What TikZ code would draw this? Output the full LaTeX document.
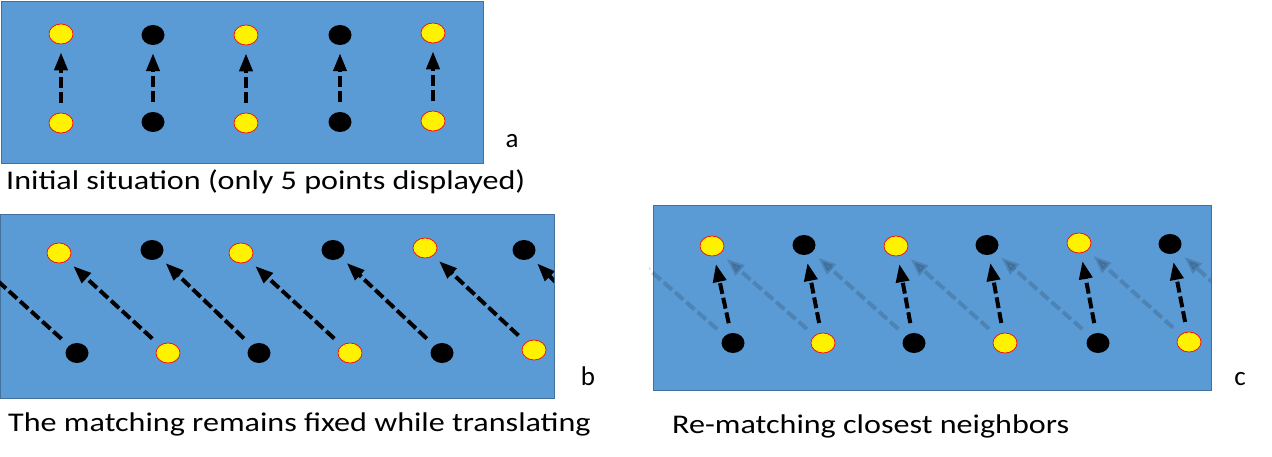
\documentclass[tikz,border=0pt]{standalone}
\usepackage{fontspec}
\setmainfont{Carlito}
\usetikzlibrary{shapes.geometric,arrows.meta}
\definecolor{panelblue}{HTML}{5B9BD5}
\definecolor{paneledge}{HTML}{41719C}
\def\cap#1{\scalebox{1.19}[1]{#1}}

\begin{document}
\begin{tikzpicture}[x=1pt, y=-1pt,
  panel/.style={fill=panelblue, draw=paneledge, line width=0.8pt},
  ydot/.style={ellipse, fill=yellow, draw=red, line width=0.7pt, minimum width=24pt, minimum height=20pt, inner sep=0pt},
  bdot/.style={ellipse, fill=black, minimum width=23pt, minimum height=20pt, inner sep=0pt},
  match/.style={-{Triangle[length=18pt,width=13pt]}, line width=4pt, dash pattern=on 11pt off 4pt, shorten <=10pt, shorten >=8pt},
  ghost/.style={match, draw opacity=0.15, fill opacity=0.15},
  tag/.style={font=\fontsize{27}{32}\selectfont, inner sep=0pt}]
\useasboundingbox (0,0) rectangle (1272,457);

% a
\draw[panel] (1,1) rectangle (483,163);
\foreach \s/\x/\yt/\yb [count=\i] in {ydot/61/34/123, bdot/153/35/122, ydot/246/35/123, bdot/340/35/122, ydot/433/33/121}{
	\node[\s] (at\i) at (\x,\yt) {};
	\node[\s] (ab\i) at (\x,\yb) {};
	\draw[match] (ab\i) -- (at\i);
}
\node[tag, anchor=base] (la) at (512,148) {a};
\node[tag, anchor=base west] (ca) at (6,190) {\cap{Initial situation (only 5 points displayed)}};

% b
\draw[panel] (0,214) rectangle (554,398);
\foreach \s/\x/\y [count=\i] in {ydot/59/253, bdot/152/250, ydot/241/253, bdot/333/250, ydot/425/248, bdot/524/250}
	\node[\s] (bt\i) at (\x,\y) {};
\foreach \s/\x/\y [count=\i] in {bdot/77/353, ydot/168/353, bdot/259/353, ydot/350/353, bdot/442/353, ydot/534/350}
	\node[\s] (bb\i) at (\x,\y) {};
\coordinate (bt0) at (-33,253);
\coordinate (bb7) at (625,353);
\begin{scope}
\clip (0,214) rectangle (554,398);
\foreach \i [evaluate=\i as \j using int(\i-1)] in {1,...,7}
	\draw[match] (bb\i) -- (bt\j);
\end{scope}
\node[tag, anchor=base] (lb) at (588,385) {b};
\node[tag, anchor=base west] (cb) at (8,431) {\cap{The matching remains fixed while translating}};

% c
\draw[panel] (653,205) rectangle (1211,390);
\foreach \s/\x/\y [count=\i] in {ydot/712/246, bdot/804/245, ydot/896/246, bdot/987/245, ydot/1079/243, bdot/1170/244}
	\node[\s] (ct\i) at (\x,\y) {};
\foreach \s/\x/\y [count=\i] in {bdot/733/343, ydot/823/343, bdot/914/343, ydot/1005/343, bdot/1098/343, ydot/1189/342}
	\node[\s] (cb\i) at (\x,\y) {};
\coordinate (ct0) at (622,246);
\coordinate (cb7) at (1280,343);
\begin{scope}
\clip (649,205) rectangle (1211,390);
\foreach \i [evaluate=\i as \j using int(\i-1)] in {1,...,7}
	\draw[ghost] (cb\i) -- (ct\j);
\end{scope}
\foreach \i in {1,...,6}
	\draw[match] (cb\i) -- (ct\i);
\node[tag, anchor=base] (lc) at (1240,385) {c};
\node[tag, anchor=base west] (cc) at (672,433) {\cap{Re-matching closest neighbors}};
\end{tikzpicture}
\end{document}
